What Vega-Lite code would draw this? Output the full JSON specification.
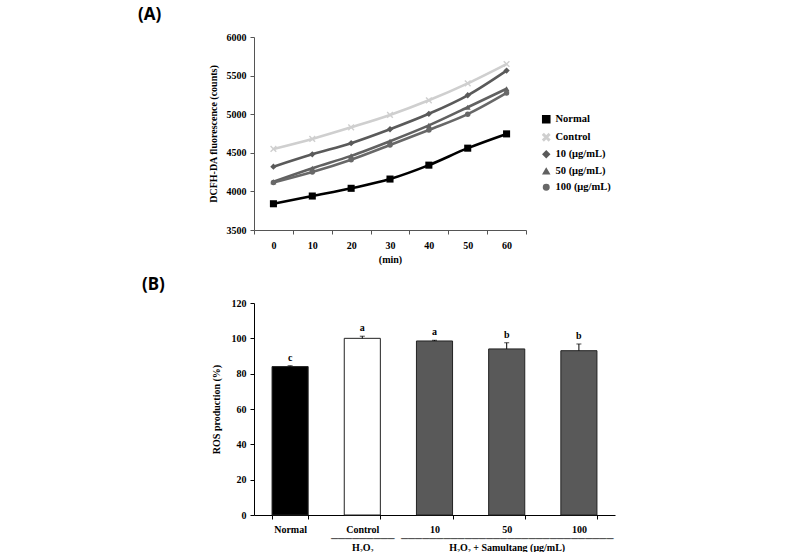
{
  "$schema": "https://vega.github.io/schema/vega-lite/v6.json",
  "background": "white",
  "padding": {"left": 138, "top": 6, "right": 5, "bottom": 0},
  "spacing": 12,
  "config": {
    "view": {"stroke": null},
    "font": "Liberation Serif",
    "axis": {
      "labelFont": "Liberation Serif, DejaVu Serif", "labelFontWeight": "bold", "labelFontSize": 10, "labelColor": "#000",
      "titleFont": "Liberation Serif", "titleFontWeight": "bold", "titleFontSize": 10, "titleColor": "#000",
      "domainColor": "#555", "tickColor": "#555", "tickSize": 4, "grid": false
    },
    "title": {"font": "Noto Sans", "fontWeight": "bold", "fontSize": 17, "color": "#000", "anchor": "start", "frame": "group"}
  },
  "vconcat": [
    {
      "title": {"text": "(A)", "dx": -116, "offset": 8},
      "width": 272,
      "height": 193,
      "data": {"values": [
        {"min": "0", "series": "Normal", "v": 3840},
        {"min": "10", "series": "Normal", "v": 3940},
        {"min": "20", "series": "Normal", "v": 4040},
        {"min": "30", "series": "Normal", "v": 4160},
        {"min": "40", "series": "Normal", "v": 4340},
        {"min": "50", "series": "Normal", "v": 4560},
        {"min": "60", "series": "Normal", "v": 4745},
        {"min": "0", "series": "Control", "v": 4550},
        {"min": "10", "series": "Control", "v": 4680},
        {"min": "20", "series": "Control", "v": 4830},
        {"min": "30", "series": "Control", "v": 4990},
        {"min": "40", "series": "Control", "v": 5180},
        {"min": "50", "series": "Control", "v": 5400},
        {"min": "60", "series": "Control", "v": 5650},
        {"min": "0", "series": "10 (μg/mL)", "v": 4320},
        {"min": "10", "series": "10 (μg/mL)", "v": 4480},
        {"min": "20", "series": "10 (μg/mL)", "v": 4625},
        {"min": "30", "series": "10 (μg/mL)", "v": 4805},
        {"min": "40", "series": "10 (μg/mL)", "v": 5005},
        {"min": "50", "series": "10 (μg/mL)", "v": 5245},
        {"min": "60", "series": "10 (μg/mL)", "v": 5565},
        {"min": "0", "series": "50 (μg/mL)", "v": 4125},
        {"min": "10", "series": "50 (μg/mL)", "v": 4300},
        {"min": "20", "series": "50 (μg/mL)", "v": 4460},
        {"min": "30", "series": "50 (μg/mL)", "v": 4650},
        {"min": "40", "series": "50 (μg/mL)", "v": 4855},
        {"min": "50", "series": "50 (μg/mL)", "v": 5090},
        {"min": "60", "series": "50 (μg/mL)", "v": 5330},
        {"min": "0", "series": "100 (μg/mL)", "v": 4115},
        {"min": "10", "series": "100 (μg/mL)", "v": 4250},
        {"min": "20", "series": "100 (μg/mL)", "v": 4410},
        {"min": "30", "series": "100 (μg/mL)", "v": 4600},
        {"min": "40", "series": "100 (μg/mL)", "v": 4795},
        {"min": "50", "series": "100 (μg/mL)", "v": 5000},
        {"min": "60", "series": "100 (μg/mL)", "v": 5275}
      ]},
      "encoding": {
        "x": {"field": "min", "type": "ordinal", "sort": null,
              "scale": {"type": "band", "paddingInner": 0, "paddingOuter": 0},
              "axis": {"title": "(min)", "labelAngle": 0, "tickBand": "extent", "labelPadding": 6, "titlePadding": 4}},
        "y": {"field": "v", "type": "quantitative",
              "scale": {"domain": [3500, 6000], "nice": false, "zero": false},
              "axis": {"title": "DCFH-DA fluorescence (counts)", "values": [3500, 4000, 4500, 5000, 5500, 6000], "format": "d", "titlePadding": 8, "labelPadding": 4}},
        "color": {"field": "series", "type": "nominal", "sort": ["Normal", "Control", "10 (μg/mL)", "50 (μg/mL)", "100 (μg/mL)"],
                  "scale": {"domain": ["Normal", "Control", "10 (μg/mL)", "50 (μg/mL)", "100 (μg/mL)"], "range": ["#000000", "#cfcfcf", "#5a5a5a", "#616161", "#686868"]},
                  "legend": {
                    "title": null, "orient": "none", "legendX": 287, "legendY": 77,
                    "labelFont": "Liberation Serif", "labelFontWeight": "bold", "labelFontSize": 10.5, "labelColor": "#000",
                    "rowPadding": 4, "labelOffset": 4
                  }}
      },
      "layer": [
        {
          "mark": {"type": "line", "strokeWidth": 2.6, "interpolate": "monotone"}
        },
        {
          "mark": {"type": "point", "filled": true, "opacity": 1, "size": 40},
          "encoding": {
            "shape": {"field": "series", "type": "nominal", "legend": null,
                      "scale": {"domain": ["Normal", "Control", "10 (μg/mL)", "50 (μg/mL)", "100 (μg/mL)"],
                                "range": ["square", "M-1,-0.7L-0.7,-1L0,-0.3L0.7,-1L1,-0.7L0.3,0L1,0.7L0.7,1L0,0.3L-0.7,1L-1,0.7L-0.3,0Z", "diamond", "triangle-up", "circle"]}},
            "size": {"field": "series", "type": "nominal", "legend": null,
                     "scale": {"domain": ["Normal", "Control", "10 (μg/mL)", "50 (μg/mL)", "100 (μg/mL)"], "range": [50, 30, 22, 40, 36]}}
          }
        }
      ]
    },
    {
      "title": {"text": "(B)", "dx": -112, "offset": 4},
      "width": 361,
      "height": 212,
      "data": {"values": [
        {"group": "Normal", "v": 84, "err": 0.5, "sig": "c"},
        {"group": "Control", "v": 100, "err": 1.2, "sig": "a"},
        {"group": "10", "v": 98.5, "err": 0.4, "sig": "a"},
        {"group": "50", "v": 94, "err": 3.5, "sig": "b"},
        {"group": "100", "v": 93, "err": 3.8, "sig": "b"}
      ]},
      "transform": [{"calculate": "datum.v + datum.err", "as": "upper"}],
      "encoding": {
        "x": {"field": "group", "type": "nominal", "sort": null,
              "scale": {"type": "band", "paddingInner": 0.5, "paddingOuter": 0.25},
              "axis": {"title": null, "labelAngle": 0, "tickBand": "extent", "labelPadding": 5, "labelLineHeight": 9, "labelLimit": 400, "domainColor": "#000", "tickColor": "#000",
                       "labelExpr": "datum.value === 'Control' ? ['Control', '─────────', 'H₂O₂'] : datum.value === '50' ? ['50', '──────────────────────────────', 'H₂O₂ + Samultang (μg/mL)'] : datum.value"}},
        "y": {"field": "v", "type": "quantitative", "scale": {"domain": [0, 120], "nice": false},
              "axis": {"title": "ROS production (%)", "values": [0, 20, 40, 60, 80, 100, 120], "titlePadding": 10, "labelPadding": 4, "domainColor": "#000", "tickColor": "#000"}}
      },
      "layer": [
        {
          "mark": {"type": "bar", "stroke": "#222", "strokeWidth": 1},
          "encoding": {
            "fill": {"field": "group", "type": "nominal", "legend": null,
                     "scale": {"domain": ["Normal", "Control", "10", "50", "100"], "range": ["#000000", "#ffffff", "#595959", "#595959", "#595959"]}}
          }
        },
        {
          "mark": {"type": "rule", "color": "#000", "strokeWidth": 1},
          "encoding": {"y2": {"field": "upper"}}
        },
        {
          "mark": {"type": "tick", "color": "#000", "thickness": 1, "size": 5},
          "encoding": {"y": {"field": "upper", "type": "quantitative"}}
        },
        {
          "mark": {"type": "text", "font": "Liberation Serif", "fontWeight": "bold", "fontSize": 10, "baseline": "bottom", "dy": -3},
          "encoding": {"y": {"field": "upper", "type": "quantitative"}, "text": {"field": "sig"}}
        }
      ]
    }
  ]
}
